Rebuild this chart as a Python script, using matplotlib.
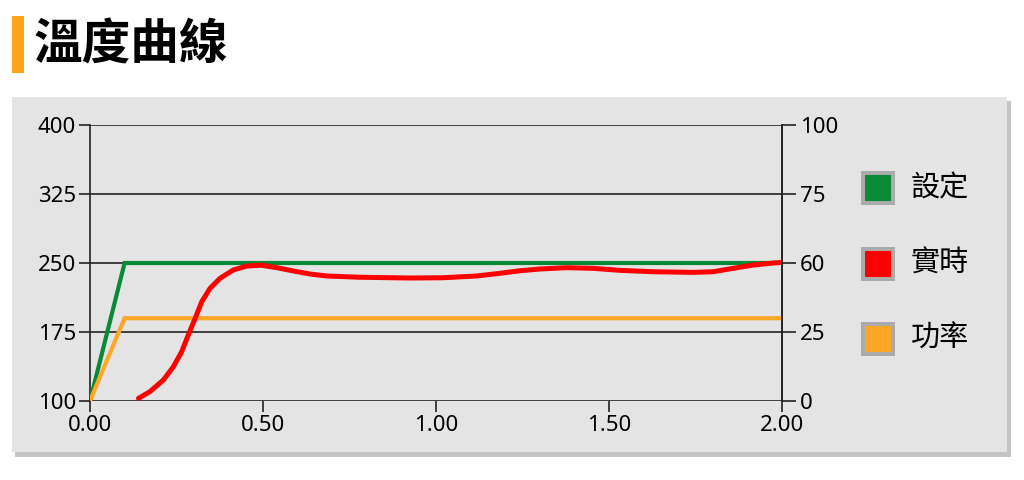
import matplotlib.pyplot as plt
import numpy as np
from matplotlib.patches import Rectangle

plt.rcParams['font.family'] = ['Noto Sans', 'Noto Sans CJK TC', 'DejaVu Sans']

# data (left axis units)
set_x = [0.0, 0.1, 2.0]
set_y = [100, 250, 250]
power_x = [0.0, 0.1, 2.0]
power_y = [100, 190, 190]
real_x = [0.140, 0.173, 0.212, 0.241, 0.265, 0.284, 0.304, 0.323, 0.347, 0.376,
          0.414, 0.453, 0.495, 0.540, 0.588, 0.636, 0.684, 0.780, 0.925, 1.021,
          1.118, 1.185, 1.243, 1.301, 1.378, 1.455, 1.532, 1.628, 1.744, 1.801,
          1.859, 1.917, 1.975, 2.0]
real_y = [102.9, 110.1, 122.8, 137.3, 153.6, 171.7, 189.9, 207.9, 222.5, 233.4,
          242.4, 246.7, 247.6, 244.9, 241.3, 238.0, 235.9, 234.5, 233.7, 234.0,
          235.9, 238.8, 241.6, 243.5, 244.9, 244.2, 242.0, 240.5, 239.8, 240.5,
          244.2, 247.8, 250.0, 250.7]

left_ticks = [100, 175, 250, 325, 400]
right_labels = ['0', '25', '60', '75', '100']
x_ticks = [0.0, 0.5, 1.0, 1.5, 2.0]
legend_names = ['設定', '實時', '功率']

c_green = '#0a8a38'
c_red = '#ff0000'
c_orange = '#ffa726'

fig = plt.figure(figsize=(10.24, 4.8), dpi=100)

# panel with shadow
fig.patches.append(Rectangle((15 / 1024, 1 - 457 / 480), 996 / 1024, 356 / 480,
                             transform=fig.transFigure, facecolor='#c4c4c4',
                             edgecolor='none', zorder=-3))
fig.patches.append(Rectangle((12 / 1024, 1 - 452 / 480), 995 / 1024, 355 / 480,
                             transform=fig.transFigure, facecolor='#e4e4e4',
                             edgecolor='none', zorder=-2))

# title
fig.patches.append(Rectangle((12 / 1024, 1 - 73 / 480), 12 / 1024, 57 / 480,
                             transform=fig.transFigure, facecolor='#ffa31a',
                             edgecolor='none'))
fig.text(34 / 1024, 1 - 45 / 480, '溫度曲線', fontsize=35, fontweight='bold',
         family=['Noto Sans CJK TC'], va='center', ha='left')

ax = fig.add_axes([90 / 1024, 1 - 401 / 480, 692 / 1024, 276 / 480])
ax.set_facecolor('none')
ax.plot(set_x, set_y, color=c_green, lw=3.0, solid_joinstyle='miter', zorder=3)
ax.plot(power_x, power_y, color=c_orange, lw=3.0, solid_joinstyle='miter', zorder=3)
ax.plot(real_x, real_y, color=c_red, lw=3.6, solid_capstyle='round',
        solid_joinstyle='round', zorder=4)

ax.set_xlim(0, 2)
ax.set_ylim(100, 400)
ax.set_yticks(left_ticks)
ax.set_xticks(x_ticks)
ax.set_xticklabels(['%.2f' % v for v in x_ticks])
ax.grid(axis='y', color='#222222', lw=1.2, zorder=1)
for s in ['top', 'bottom']:
    ax.spines[s].set_visible(False)
for s in ['left', 'right']:
    ax.spines[s].set_color('#222222')
    ax.spines[s].set_linewidth(1.2)
ax.tick_params(axis='both', length=8, width=1.2, color='#222222',
               labelsize=16, pad=2)

ax2 = ax.twinx()
ax2.set_ylim(100, 400)
ax2.set_yticks(left_ticks)
ax2.set_yticklabels(right_labels)
for s in ['top', 'bottom', 'left']:
    ax2.spines[s].set_visible(False)
ax2.spines['right'].set_color('#222222')
ax2.spines['right'].set_linewidth(1.2)
ax2.tick_params(axis='y', length=10, width=1.2, color='#222222',
                labelsize=16, pad=3)

# legend
for i, (name, col) in enumerate(zip(legend_names, [c_green, c_red, c_orange])):
    cy = 188 + i * 75.5
    fig.patches.append(Rectangle((861 / 1024, 1 - (cy + 17) / 480), 34 / 1024, 34 / 480,
                                 transform=fig.transFigure, facecolor='#aaaaaa',
                                 edgecolor='none'))
    fig.patches.append(Rectangle((865 / 1024, 1 - (cy + 13) / 480), 26 / 1024, 26 / 480,
                                 transform=fig.transFigure, facecolor=col,
                                 edgecolor='none'))
    fig.text(911 / 1024, 1 - cy / 480, name, fontsize=21, fontweight='medium',
             family=['Noto Sans CJK TC'], va='center', ha='left')

fig.savefig('out.png', dpi=100)
